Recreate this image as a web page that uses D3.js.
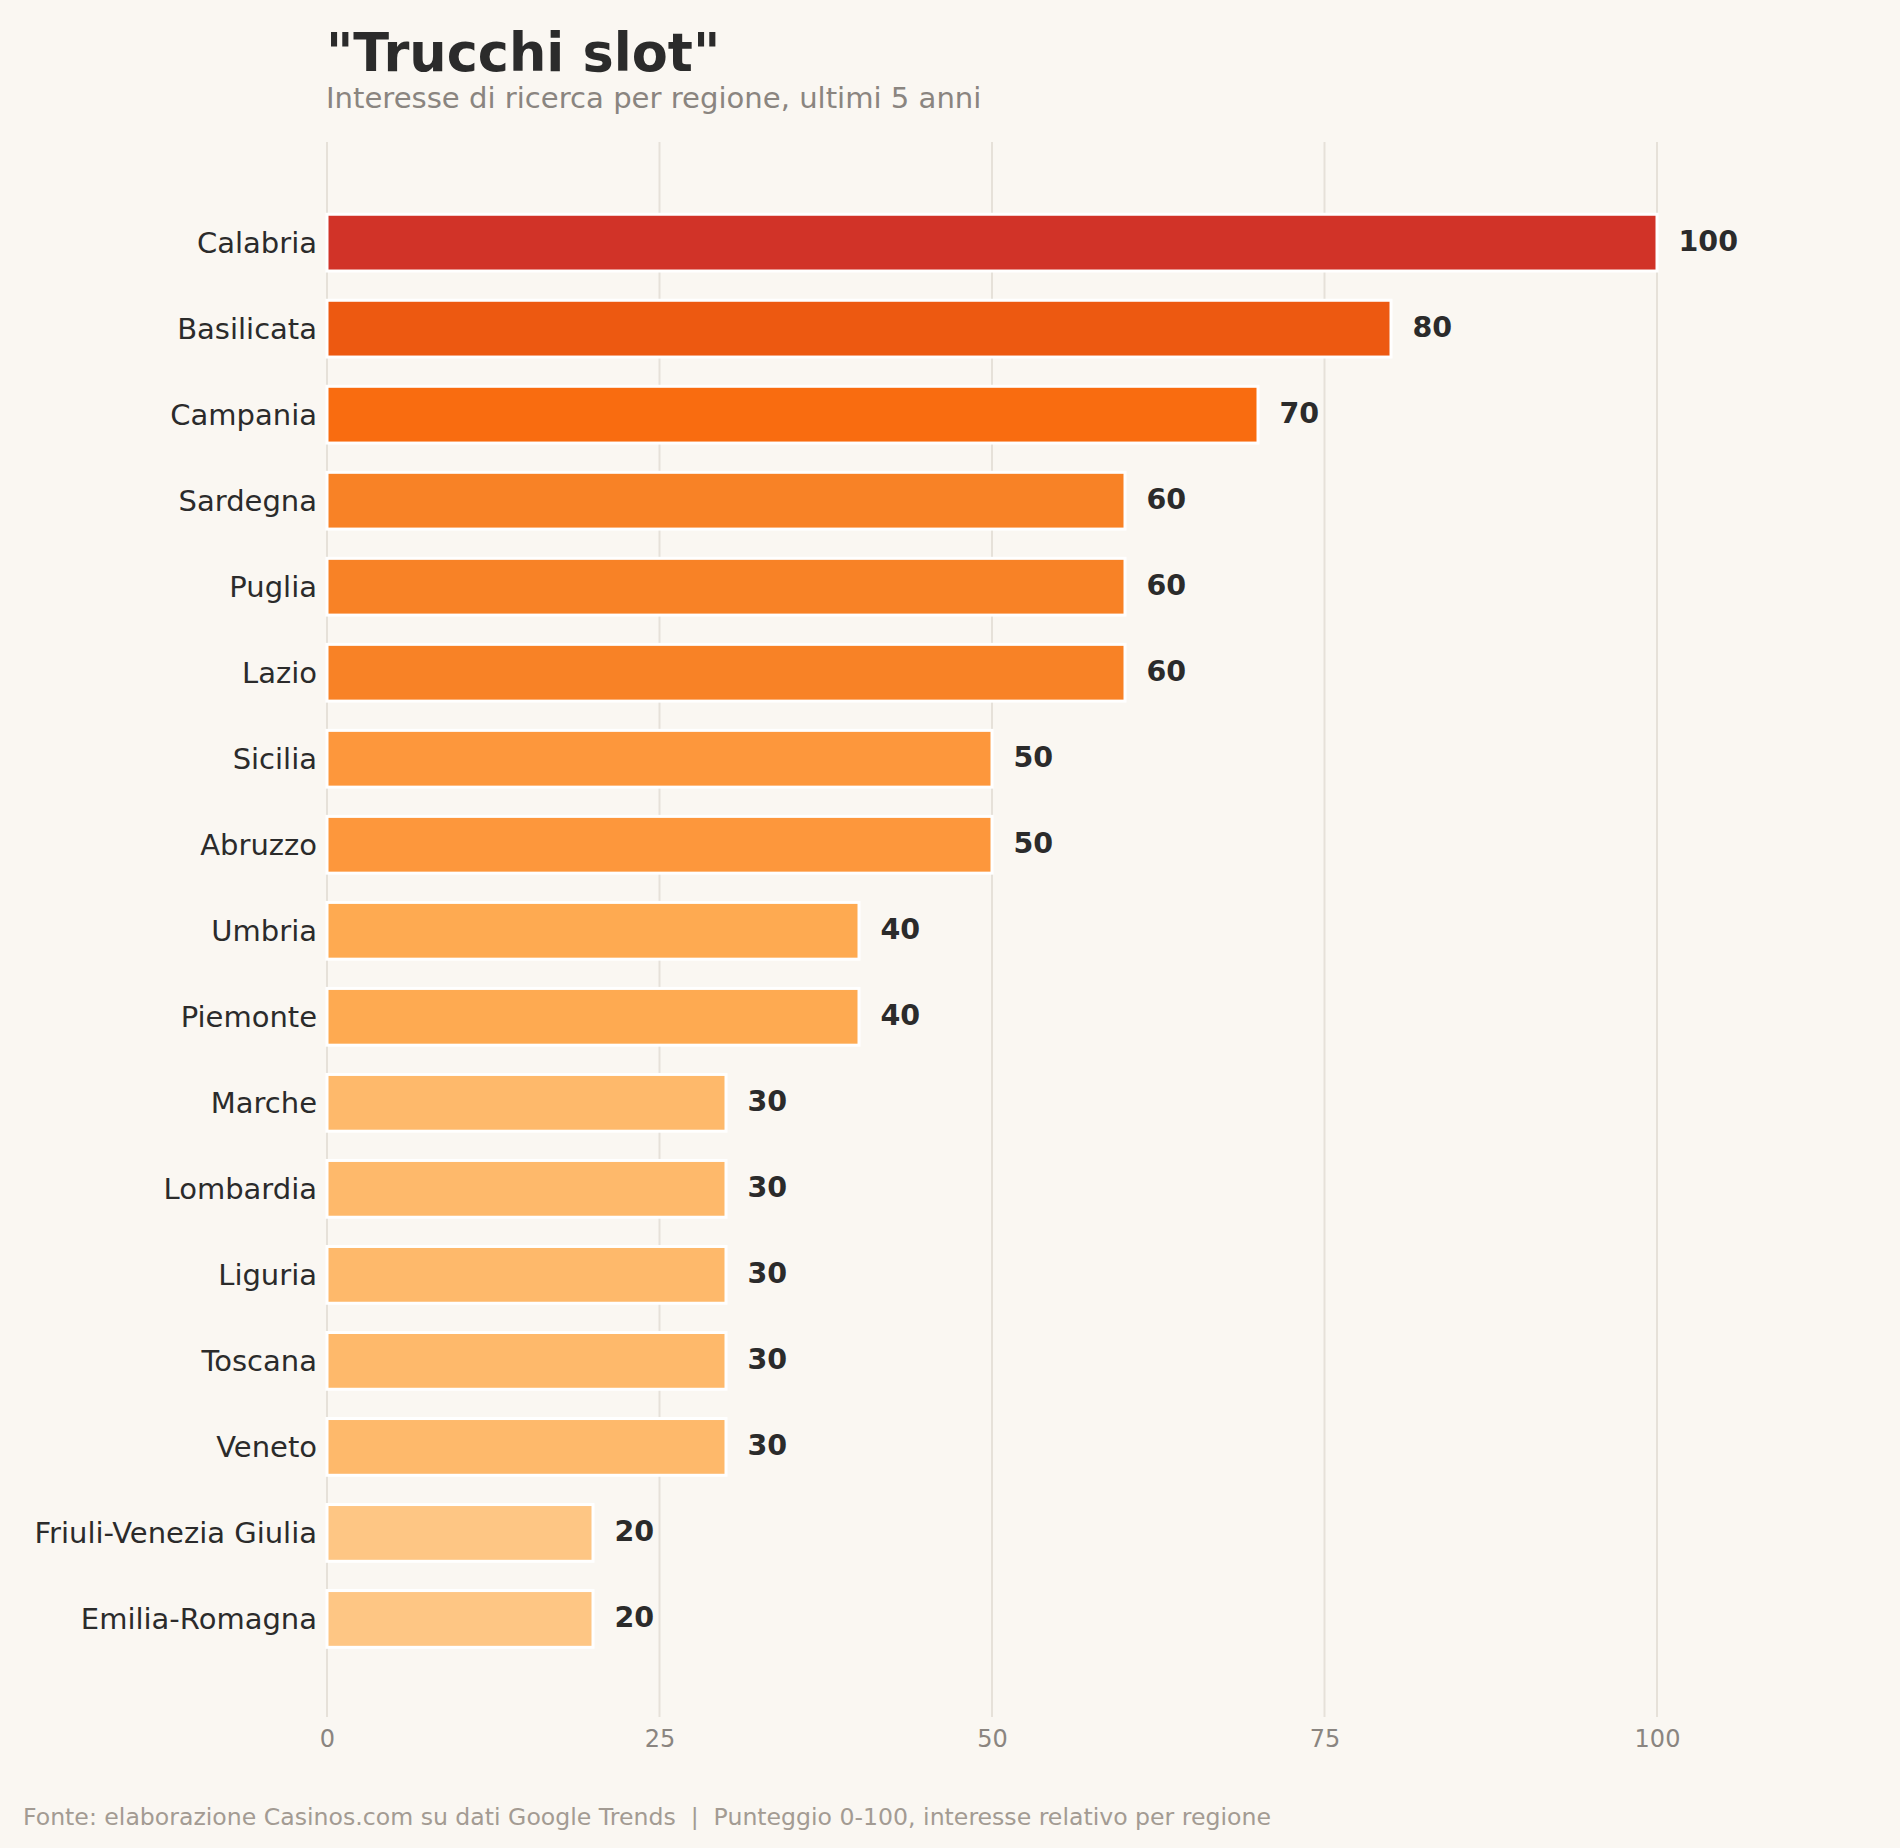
<!DOCTYPE html>
<html>
<head>
<meta charset="utf-8">
<script src="https://cdn.jsdelivr.net/npm/d3@7"></script>
<style>
  html, body { margin: 0; padding: 0; background: #faf7f2; }
  svg { display: block; }
  text { font-family: "DejaVu Sans", sans-serif; }
</style>
</head>
<body>
<svg id="chart" width="1900" height="1848"></svg>
<script>
const regions = ["Calabria","Basilicata","Campania","Sardegna","Puglia","Lazio","Sicilia","Abruzzo","Umbria","Piemonte","Marche","Lombardia","Liguria","Toscana","Veneto","Friuli-Venezia Giulia","Emilia-Romagna"];
const values = [100,80,70,60,60,60,50,50,40,40,30,30,30,30,30,20,20];
const xTicks = [0,25,50,75,100];
const title = "\"Trucchi slot\"";
const subtitle = "Interesse di ricerca per regione, ultimi 5 anni";
const footer = "Fonte: elaborazione Casinos.com su dati Google Trends  |  Punteggio 0-100, interesse relativo per regione";

const palette = d3.scaleOrdinal()
  .domain([100,80,70,60,50,40,30,20])
  .range(["#d13328","#ed5911","#f96c10","#f88226","#fd973c","#feaa51","#feb96b","#fec684"]);

const svg = d3.select("#chart");
svg.append("rect").attr("width",1900).attr("height",1848).attr("fill","#faf7f2");

const x = d3.scaleLinear().domain([0,110]).range([327, 327 + 13.3*110]);
const y = d3.scaleLinear().domain([-1.17, regions.length - 1 + 1.14]).range([142, 1717]);
const band = y(1) - y(0);
const barH = band * 0.66;

// gridlines
svg.append("g").selectAll("line").data(xTicks).join("line")
  .attr("x1", d => x(d)).attr("x2", d => x(d))
  .attr("y1", y.range()[0]).attr("y2", y.range()[1])
  .attr("stroke", "#e6e1d9").attr("stroke-width", 2);

// x tick labels via axis
const xAxis = d3.axisBottom(x).tickValues(xTicks).tickSize(0).tickPadding(0).tickFormat(d3.format("d"));
const gx = svg.append("g").attr("transform", `translate(0,${y.range()[1]})`).call(xAxis);
gx.select(".domain").remove();
gx.selectAll("text")
  .attr("dy", null).attr("y", 30)
  .attr("fill", "#8a8580").style("font-size", "24px").style("font-family", "DejaVu Sans, sans-serif");

// bars
svg.append("g").selectAll("rect").data(values).join("rect")
  .attr("x", x(0))
  .attr("y", (d,i) => y(i) - barH/2)
  .attr("width", d => x(d) - x(0))
  .attr("height", barH)
  .attr("fill", d => palette(d))
  .attr("stroke", "#ffffff").attr("stroke-width", 3);

// category labels
svg.append("g").selectAll("text").data(regions).join("text")
  .attr("x", x(0) - 10)
  .attr("y", (d,i) => y(i) + 10.5)
  .attr("text-anchor", "end")
  .attr("fill", "#2b2b2b")
  .style("font-size", "29px")
  .text(d => d);

// value labels
svg.append("g").selectAll("text").data(values).join("text")
  .attr("x", d => x(d) + 21.5)
  .attr("y", (d,i) => y(i) + 8)
  .attr("fill", "#2b2b2b")
  .style("font-size", "28.5px").style("font-weight", "bold")
  .text(d => d);

// title & subtitle
svg.append("text").attr("x", 326).attr("y", 71)
  .attr("fill", "#2b2b2b").style("font-size", "52.5px").style("font-weight", "bold")
  .text(title);
svg.append("text").attr("x", 326).attr("y", 108)
  .attr("fill", "#8a8580").style("font-size", "29.1px")
  .text(subtitle);

// footer
svg.append("text").attr("x", 23).attr("y", 1825)
  .attr("fill", "#a39b93").style("font-size", "23.6px")
  .style("white-space", "pre").attr("xml:space", "preserve")
  .text(footer);
</script>
</body>
</html>
